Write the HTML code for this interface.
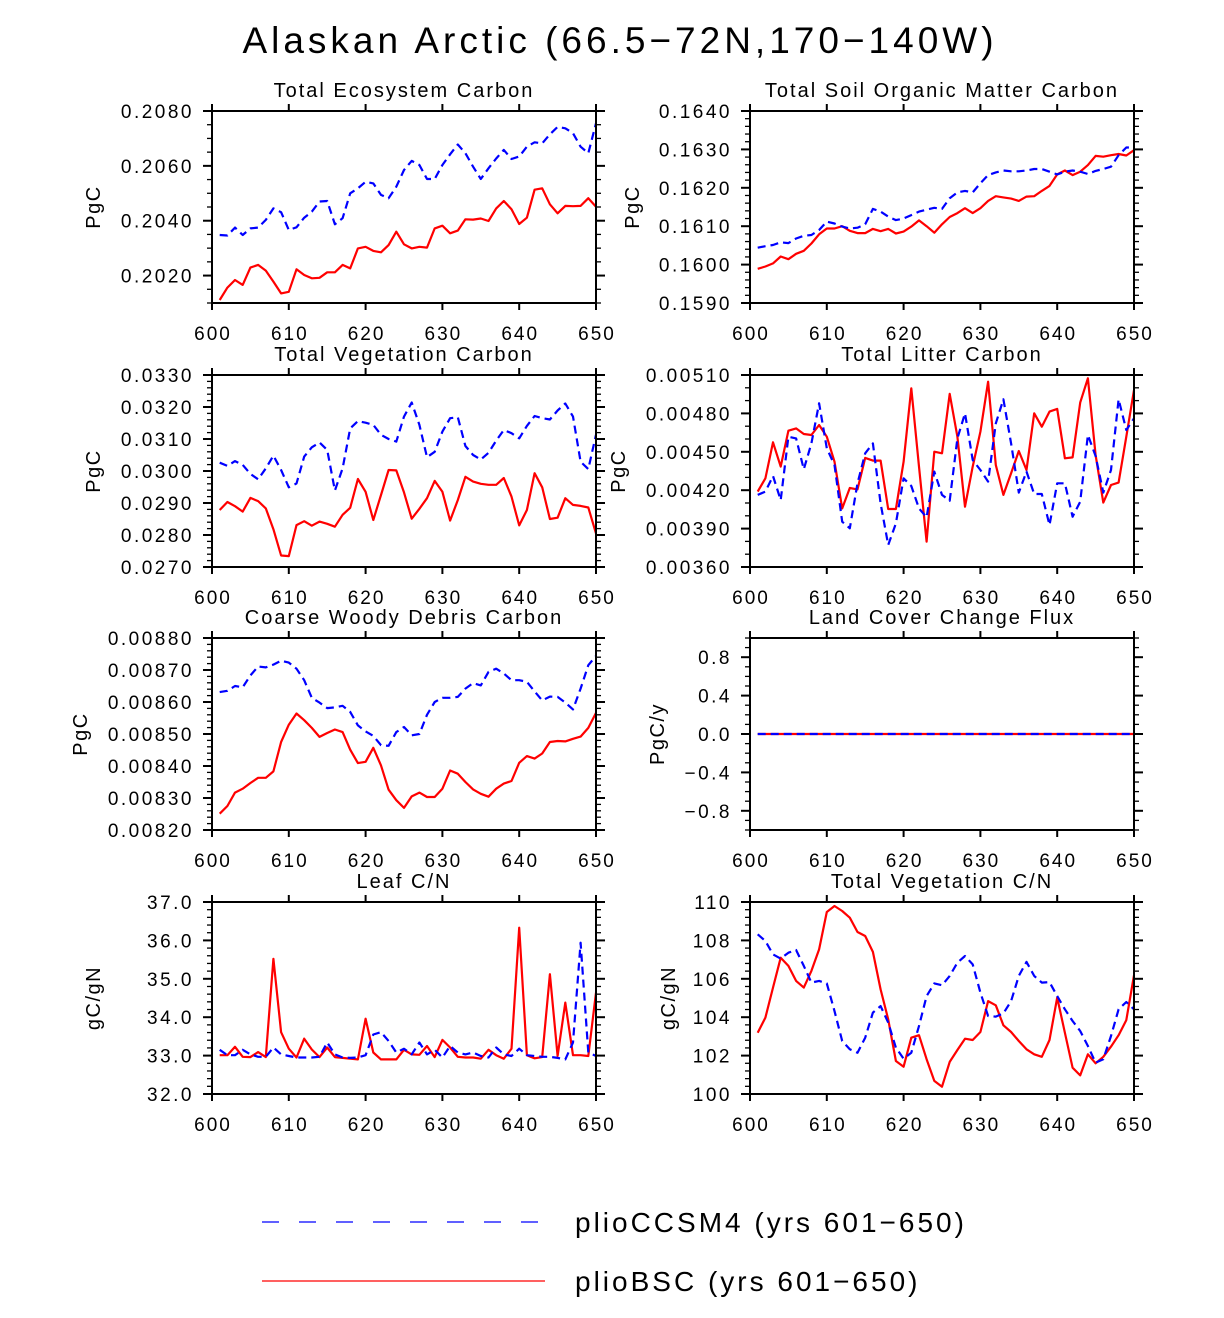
<!DOCTYPE html>
<html><head><meta charset="utf-8">
<style>
html,body{margin:0;padding:0;background:#fff;}
svg{display:block;}
text{font-family:"Liberation Sans",sans-serif;fill:#000;}
</style></head>
<body>
<svg id="chart" width="1224" height="1318" viewBox="0 0 1224 1318" xmlns="http://www.w3.org/2000/svg">
<text x="620" y="53" font-size="37" text-anchor="middle" letter-spacing="4">Alaskan Arctic (66.5−72N,170−140W)</text>
<g>
<line x1="262" y1="1222" x2="545" y2="1222" stroke="#0000ff" stroke-width="1.3" stroke-dasharray="17,20"/>
<text x="575" y="1232" font-size="28" letter-spacing="3">plioCCSM4 (yrs 601−650)</text>
<line x1="262" y1="1281" x2="545" y2="1281" stroke="#ff0000" stroke-width="1.3"/>
<text x="575" y="1291" font-size="28" letter-spacing="3">plioBSC (yrs 601−650)</text>
</g>
</svg>
<script>
const years = [];
for (let y = 601; y <= 650; y++) years.push(y);
const xTicks = [600, 610, 620, 630, 640, 650];

const tecRed = [0.20111,0.20156,0.20184,0.20166,0.20229,0.20239,0.20218,0.20178,0.20135,0.20141,0.20223,0.20202,0.20190,0.20192,0.20212,0.20212,0.20239,0.20226,0.20299,0.20305,0.20290,0.20285,0.20311,0.20360,0.20314,0.20299,0.20305,0.20302,0.20372,0.20382,0.20354,0.20364,0.20405,0.20404,0.20408,0.20399,0.20445,0.20472,0.20442,0.20388,0.20411,0.20513,0.20518,0.20460,0.20427,0.20454,0.20453,0.20454,0.20482,0.20451];
const tecBlue = [0.20348,0.20346,0.20375,0.20348,0.20372,0.20375,0.20403,0.20445,0.20431,0.20366,0.20376,0.20411,0.20433,0.20470,0.20472,0.20387,0.20409,0.20500,0.20518,0.20542,0.20536,0.20494,0.20482,0.20524,0.20585,0.20618,0.20603,0.20552,0.20552,0.20603,0.20642,0.20678,0.20646,0.20597,0.20552,0.20591,0.20627,0.20658,0.20625,0.20634,0.20670,0.20686,0.20682,0.20715,0.20742,0.20737,0.20719,0.20670,0.20646,0.20755];
const somRed = [0.15989,0.15995,0.16003,0.16021,0.16014,0.16028,0.16036,0.16055,0.16079,0.16094,0.16094,0.16100,0.16088,0.16082,0.16082,0.16093,0.16087,0.16093,0.16081,0.16086,0.16099,0.16115,0.16100,0.16083,0.16105,0.16124,0.16134,0.16147,0.16134,0.16147,0.16166,0.16178,0.16175,0.16172,0.16166,0.16177,0.16178,0.16192,0.16205,0.16235,0.16245,0.16233,0.16242,0.16259,0.16283,0.16281,0.16285,0.16288,0.16284,0.16298];
const somBlue = [0.16044,0.16048,0.16051,0.16058,0.16056,0.16068,0.16075,0.16077,0.16090,0.16112,0.16107,0.16099,0.16094,0.16096,0.16105,0.16145,0.16138,0.16125,0.16116,0.16120,0.16129,0.16138,0.16143,0.16148,0.16145,0.16173,0.16188,0.16192,0.16188,0.16212,0.16233,0.16240,0.16245,0.16243,0.16243,0.16245,0.16249,0.16249,0.16242,0.16235,0.16242,0.16245,0.16242,0.16236,0.16244,0.16249,0.16255,0.16285,0.16305,0.16305];
const vegRed = [0.02878,0.02903,0.02890,0.02873,0.02916,0.02906,0.02883,0.02818,0.02736,0.02734,0.02831,0.02843,0.02829,0.02842,0.02835,0.02826,0.02863,0.02885,0.02975,0.02935,0.02847,0.02925,0.03003,0.03002,0.02933,0.02851,0.02882,0.02915,0.02969,0.02935,0.02845,0.02909,0.02982,0.02967,0.02960,0.02957,0.02957,0.02978,0.02920,0.02830,0.02878,0.02993,0.02949,0.02850,0.02854,0.02915,0.02894,0.02891,0.02886,0.02805];
const vegBlue = [0.03026,0.03016,0.03031,0.03019,0.02991,0.02974,0.03008,0.03048,0.03003,0.02949,0.02961,0.03045,0.03074,0.03089,0.03066,0.02939,0.03008,0.03133,0.03156,0.03151,0.03144,0.03113,0.03100,0.03092,0.03170,0.03214,0.03144,0.03043,0.03060,0.03123,0.03165,0.03168,0.03078,0.03050,0.03036,0.03057,0.03095,0.03128,0.03118,0.03102,0.03141,0.03172,0.03165,0.03161,0.03189,0.03211,0.03170,0.03029,0.03006,0.03113];
const litRed = [0.004189,0.004293,0.004574,0.004384,0.004665,0.004683,0.004639,0.004631,0.004709,0.004618,0.004423,0.004058,0.004217,0.004206,0.004452,0.004431,0.004431,0.004053,0.004053,0.004423,0.004996,0.004384,0.003798,0.004501,0.004488,0.004952,0.004618,0.004071,0.004384,0.004657,0.005048,0.004397,0.004163,0.004332,0.004506,0.004358,0.004801,0.004696,0.004814,0.004835,0.004449,0.004456,0.004884,0.005074,0.004475,0.004103,0.004241,0.004259,0.004618,0.004983];
const litBlue = [0.004163,0.004189,0.004311,0.004123,0.004618,0.004605,0.004363,0.004566,0.004879,0.004527,0.004397,0.003954,0.003902,0.004254,0.004488,0.004566,0.004097,0.003772,0.003941,0.004293,0.004233,0.004058,0.003988,0.004345,0.004163,0.004118,0.004605,0.004801,0.004436,0.004358,0.004267,0.004722,0.004910,0.004566,0.004181,0.004345,0.004170,0.004170,0.003928,0.004254,0.004254,0.003993,0.004110,0.004631,0.004467,0.004181,0.004358,0.004910,0.004670,0.004761];
const cwdRed = [0.008251,0.008275,0.008317,0.008329,0.008347,0.008363,0.008363,0.008383,0.008475,0.008529,0.008564,0.008543,0.008519,0.008491,0.008503,0.008514,0.008506,0.008451,0.008409,0.008413,0.008457,0.008402,0.008326,0.008293,0.008269,0.008305,0.008317,0.008303,0.008303,0.008329,0.008386,0.008376,0.008350,0.008327,0.008313,0.008304,0.008329,0.008345,0.008353,0.008410,0.008431,0.008423,0.008439,0.008475,0.008478,0.008477,0.008485,0.008492,0.008519,0.008566];
const cwdBlue = [0.008631,0.008635,0.008650,0.008646,0.008683,0.008711,0.008708,0.008717,0.008729,0.008723,0.008704,0.008668,0.008613,0.008598,0.008581,0.008583,0.008588,0.008569,0.008527,0.008508,0.008494,0.008465,0.008463,0.008506,0.008522,0.008496,0.008500,0.008560,0.008600,0.008613,0.008613,0.008616,0.008642,0.008659,0.008652,0.008694,0.008704,0.008689,0.008668,0.008668,0.008663,0.008633,0.008605,0.008617,0.008616,0.008598,0.008577,0.008642,0.008715,0.008744];
const lccRed = years.map(() => 0);
const lccBlue = years.map(() => 0);
const leafRed = [33.01,33.01,33.23,32.97,32.96,33.09,32.96,35.52,33.61,33.18,32.95,33.44,33.16,32.96,33.21,32.96,32.94,32.92,32.90,33.96,33.08,32.90,32.90,32.90,33.15,33.03,33.02,33.25,32.96,33.41,33.21,32.97,32.95,32.95,32.92,33.15,33.01,32.92,33.18,36.33,33.01,32.93,32.96,35.12,32.99,34.38,33.01,33.01,32.99,34.64];
const leafBlue = [33.15,33.01,33.01,33.15,33.03,32.97,32.97,33.21,33.03,32.99,32.95,32.95,32.95,32.97,33.34,33.03,32.95,32.94,32.95,33.01,33.55,33.61,33.38,33.08,33.18,33.03,33.34,33.03,33.15,32.95,33.25,33.08,33.03,33.08,32.99,32.95,33.21,33.03,32.99,33.18,33.01,32.99,32.97,32.97,32.94,32.90,33.34,35.94,33.08,32.99];
const vcnRed = [103.19,103.98,105.54,107.10,106.67,105.89,105.54,106.41,107.53,109.48,109.79,109.53,109.18,108.44,108.23,107.40,105.45,103.89,101.72,101.42,102.93,103.06,101.81,100.68,100.38,101.67,102.29,102.88,102.81,103.23,104.84,104.62,103.58,103.23,102.76,102.33,102.07,101.94,102.81,105.02,103.19,101.37,100.97,102.07,101.60,101.94,102.47,103.06,103.85,106.18];
const vcnBlue = [108.32,107.97,107.27,107.05,107.36,107.50,106.67,105.80,105.89,105.76,104.32,102.76,102.33,102.15,102.93,104.24,104.58,103.72,102.41,101.84,102.15,103.54,105.10,105.76,105.66,106.15,106.84,107.19,106.75,105.28,104.06,104.03,104.20,104.84,106.15,106.88,106.15,105.80,105.83,105.10,104.41,103.80,103.28,102.50,101.63,101.81,103.02,104.41,104.79,104.41];

const tecTicks = ['0.2080','0.2060','0.2040','0.2020'];
const somTicks = ['0.1640','0.1630','0.1620','0.1610','0.1600','0.1590'];
const vegTicks = ['0.0330','0.0320','0.0310','0.0300','0.0290','0.0280','0.0270'];
const litTicks = ['0.00510','0.00480','0.00450','0.00420','0.00390','0.00360'];
const cwdTicks = ['0.00880','0.00870','0.00860','0.00850','0.00840','0.00830','0.00820'];
const lccTicks = ['0.8','0.4','0.0','−0.4','−0.8'];
const leafTicks = ['37.0','36.0','35.0','34.0','33.0','32.0'];
const vcnTicks = ['110','108','106','104','102','100'];

const NS = 'http://www.w3.org/2000/svg';
const svg = document.getElementById('chart');
function mk(tag, attrs, parent) {
  const e = document.createElementNS(NS, tag);
  for (const k in attrs) e.setAttribute(k, attrs[k]);
  parent.appendChild(e);
  return e;
}
function num(s){ return parseFloat(s.replace('−','-')); }

const panels = [
  {id:'total-ecosystem-carbon', title:'Total Ecosystem Carbon', x0:212, y0:111, ymin:0.2010, ymax:0.2080, minor:0.0005, ticks:tecTicks, red:tecRed, blue:tecBlue, ylab:'PgC', ylx:93},
  {id:'total-soil-organic-matter-carbon', title:'Total Soil Organic Matter Carbon', x0:750, y0:111, ymin:0.1590, ymax:0.1640, minor:0.0002, ticks:somTicks, red:somRed, blue:somBlue, ylab:'PgC', ylx:632},
  {id:'total-vegetation-carbon', title:'Total Vegetation Carbon', x0:212, y0:375, ymin:0.0270, ymax:0.0330, minor:0.0002, ticks:vegTicks, red:vegRed, blue:vegBlue, ylab:'PgC', ylx:93},
  {id:'total-litter-carbon', title:'Total Litter Carbon', x0:750, y0:375, ymin:0.00360, ymax:0.00510, minor:0.0001, ticks:litTicks, red:litRed, blue:litBlue, ylab:'PgC', ylx:618},
  {id:'coarse-woody-debris-carbon', title:'Coarse Woody Debris Carbon', x0:212, y0:638, ymin:0.00820, ymax:0.00880, minor:0.00002, ticks:cwdTicks, red:cwdRed, blue:cwdBlue, ylab:'PgC', ylx:80},
  {id:'land-cover-change-flux', title:'Land Cover Change Flux', x0:750, y0:638, ymin:-1, ymax:1, minor:0.1, ticks:lccTicks, red:lccRed, blue:lccBlue, ylab:'PgC/y', ylx:657},
  {id:'leaf-cn', title:'Leaf C/N', x0:212, y0:902, ymin:32, ymax:37, minor:0.2, ticks:leafTicks, red:leafRed, blue:leafBlue, ylab:'gC/gN', ylx:93},
  {id:'total-vegetation-cn', title:'Total Vegetation C/N', x0:750, y0:902, ymin:100, ymax:110, minor:0.4, ticks:vcnTicks, red:vcnRed, blue:vcnBlue, ylab:'gC/gN', ylx:668}
];
const W = 384, H = 192;

panels.forEach(p => {
  const g = mk('g', {}, svg);
  
  
  const xs = v => p.x0 + (v - 600) / 50 * W;
  const ys = v => p.y0 + (p.ymax - v) / (p.ymax - p.ymin) * H;

  const t = mk('text', {x: p.x0 + W/2, y: p.y0 - 14, 'font-size': 20, 'text-anchor': 'middle', 'letter-spacing': 2}, g);
  t.textContent = p.title;
  
  

  const nMin = Math.round((p.ymax - p.ymin) / p.minor);
  for (let i = 0; i <= nMin; i++) {
    const yy = p.y0 + i / nMin * H;
    mk('line', {x1: p.x0 - 5, y1: yy, x2: p.x0, y2: yy, stroke: '#000', 'stroke-width': 1.3}, g);
    mk('line', {x1: p.x0 + W, y1: yy, x2: p.x0 + W + 5, y2: yy, stroke: '#000', 'stroke-width': 1.3}, g);
  }
  p.ticks.forEach(s => {
    const yy = ys(num(s));
    mk('line', {x1: p.x0 - 9, y1: yy, x2: p.x0, y2: yy, stroke: '#000', 'stroke-width': 2}, g);
    mk('line', {x1: p.x0 + W, y1: yy, x2: p.x0 + W + 9, y2: yy, stroke: '#000', 'stroke-width': 2}, g);
    const lt = mk('text', {x: p.x0 - 18, y: yy + 7, 'font-size': 19, 'text-anchor': 'end', 'letter-spacing': 2.5}, g);
    lt.textContent = s;
    
    
  });
  xTicks.forEach(v => {
    const xx = xs(v);
    mk('line', {x1: xx, y1: p.y0 - 7, x2: xx, y2: p.y0, stroke: '#000', 'stroke-width': 2}, g);
    mk('line', {x1: xx, y1: p.y0 + H, x2: xx, y2: p.y0 + H + 7, stroke: '#000', 'stroke-width': 2}, g);
    const lt = mk('text', {x: xx + 1, y: p.y0 + H + 37, 'font-size': 19, 'text-anchor': 'middle', 'letter-spacing': 2}, g);
    lt.textContent = v;
    
    
  });
  const yl = mk('text', {x: p.ylx, y: p.y0 + H/2, 'font-size': 20, 'text-anchor': 'middle', 'letter-spacing': 1.5, transform: 'rotate(-90 ' + p.ylx + ' ' + (p.y0 + H/2) + ')', dy: 7}, g);
  yl.textContent = p.ylab;
  
  

  const line = (arr, color, dash, nm) => {
    const pts = arr.map((v, i) => xs(years[i]).toFixed(1) + ',' + ys(v).toFixed(1)).join(' ');
    const pl = mk('polyline', {points: pts, fill: 'none', stroke: color, 'stroke-width': 2.2, 'stroke-linejoin': 'round'}, g);
    if (dash) pl.setAttribute('stroke-dasharray', dash);
    
    
  };
  line(p.red, '#ff0000', null, p.id + '-pliobsc-line');
  line(p.blue, '#0000ff', '8,5', p.id + '-pliocccsm4-line');

  const fr = mk('rect', {x: p.x0, y: p.y0, width: W, height: H, fill: 'none', stroke: '#000', 'stroke-width': 2}, g);
  
  
});
</script>
</body></html>
